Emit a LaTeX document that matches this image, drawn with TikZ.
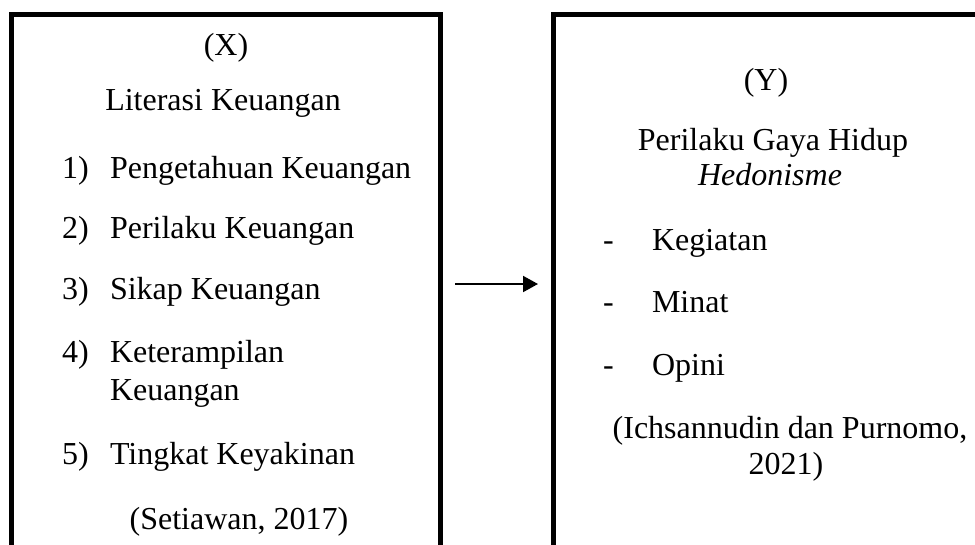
\documentclass[tikz,border=0pt]{standalone}
\usepackage{fontspec}
\setmainfont{Liberation Serif}
\usetikzlibrary{arrows.meta}
\begin{document}
\begin{tikzpicture}[x=1pt,y=-1pt,
  every node/.style={inner sep=0pt,outer sep=0pt,font=\fontsize{32}{38}\selectfont},
  frame/.style={draw,line width=5pt},
  txt/.style={anchor=base},
  item/.style={anchor=base west},
  link/.style={line width=2pt,-{Triangle[length=15pt,width=16pt]}}]
\useasboundingbox (0,0) rectangle (975,544);
\clip (0,0) rectangle (975,544);
\node[frame,minimum width=428.5pt,minimum height=600pt,anchor=north west] (lbox) at (11.5,14) {};
\node[frame,minimum width=460pt,minimum height=600pt,anchor=north west] (rbox) at (553,14.5) {};
% left texts
\node[txt] (x) at (226,55) {(X)};
\node[txt] (lit) at (223,110) {Literasi Keuangan};
\node[item] (n1) at (62,178) {1)};
\node[item] (t1) at (110,178) {Pengetahuan Keuangan};
\node[item] (n2) at (62,238) {2)};
\node[item] (t2) at (110,238) {Perilaku Keuangan};
\node[item] (n3) at (62,299) {3)};
\node[item] (t3) at (110,299) {Sikap Keuangan};
\node[item] (n4) at (62,362) {4)};
\node[item] (t4) at (110,362) {Keterampilan};
\node[item] (t4b) at (110,400) {Keuangan};
\node[item] (n5) at (62,464) {5)};
\node[item] (t5) at (110,464) {Tingkat Keyakinan};
\node[txt] (src1) at (239,529) {(Setiawan, 2017)};
% right texts
\node[txt] (y) at (766,90) {(Y)};
\node[txt] (pgh) at (773,150) {Perilaku Gaya Hidup};
\node[txt] (hed) at (770,185) {\itshape Hedonisme};
\node[item] (d1) at (603,250) {-};
\node[item] (k1) at (652,250) {Kegiatan};
\node[item] (d2) at (603,312) {-};
\node[item] (k2) at (652,312) {Minat};
\node[item] (d3) at (603,375) {-};
\node[item] (k3) at (652,375) {Opini};
\node[txt] (src2) at (790,438) {(Ichsannudin dan Purnomo,};
\node[txt] (src2b) at (786,474) {2021)};
% arrow
\coordinate (a1) at (455,284);
\coordinate (a2) at (538,284);
\draw[link] (a1) -- (a2);
\end{tikzpicture}
\end{document}
